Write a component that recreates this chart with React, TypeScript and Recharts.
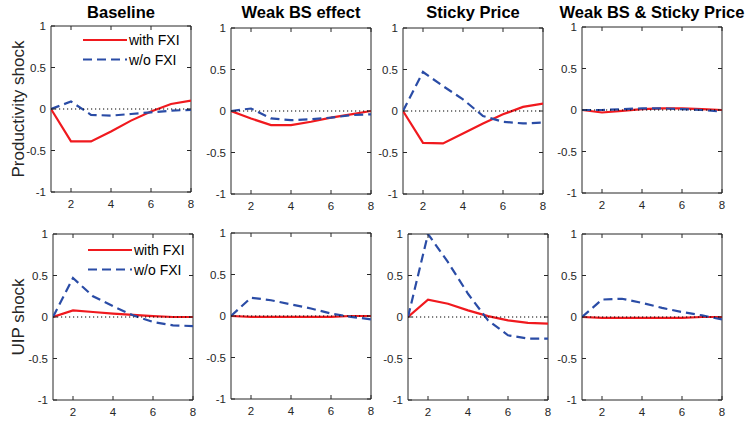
import React from 'react';
import { LineChart, Line, XAxis, YAxis, ReferenceLine, ReferenceArea, Legend } from 'recharts';

const periods = [1, 2, 3, 4, 5, 6, 7, 8];
const xTicks = [2, 4, 6, 8];
const yTicks = [-1, -0.5, 0, 0.5, 1];

const titles = ['Baseline', 'Weak BS effect', 'Sticky Price', 'Weak BS & Sticky Price'];
const rowLabels = ['Productivity shock', 'UIP shock'];

// productivity shock
const prodBaseWith = [0, -0.39, -0.39, -0.27, -0.14, -0.03, 0.06, 0.1];
const prodBaseWithout = [0, 0.09, -0.07, -0.08, -0.06, -0.04, -0.02, -0.01];
const prodWeakWith = [0, -0.09, -0.17, -0.17, -0.13, -0.08, -0.04, 0];
const prodWeakWithout = [0, 0.03, -0.09, -0.11, -0.1, -0.08, -0.05, -0.04];
const prodStickyWith = [0, -0.385, -0.39, -0.27, -0.15, -0.04, 0.05, 0.09];
const prodStickyWithout = [0, 0.47, 0.3, 0.14, -0.06, -0.13, -0.15, -0.14];
const prodBothWith = [0, -0.03, -0.01, 0.01, 0.02, 0.02, 0.01, 0];
const prodBothWithout = [0, 0, 0.01, 0.02, 0.02, 0.01, 0, -0.02];

// UIP shock
const uipBaseWith = [0, 0.08, 0.06, 0.04, 0.025, 0.01, 0, 0];
const uipBaseWithout = [0, 0.47, 0.25, 0.13, 0.02, -0.06, -0.1, -0.11];
const uipWeakWith = [0, -0.01, -0.01, -0.01, -0.01, -0.01, 0, 0];
const uipWeakWithout = [0, 0.22, 0.19, 0.14, 0.09, 0.03, -0.01, -0.04];
const uipStickyWith = [0, 0.21, 0.16, 0.08, 0.01, -0.04, -0.07, -0.08];
const uipStickyWithout = [0, 1.0, 0.66, 0.28, -0.04, -0.22, -0.26, -0.26];
const uipBothWith = [0, -0.01, -0.01, -0.01, -0.01, -0.01, 0, 0];
const uipBothWithout = [0, 0.21, 0.22, 0.17, 0.11, 0.06, 0.02, -0.03];

const rows = [
  [
    [prodBaseWith, prodBaseWithout],
    [prodWeakWith, prodWeakWithout],
    [prodStickyWith, prodStickyWithout],
    [prodBothWith, prodBothWithout],
  ],
  [
    [uipBaseWith, uipBaseWithout],
    [uipWeakWith, uipWeakWithout],
    [uipStickyWith, uipStickyWithout],
    [uipBothWith, uipBothWithout],
  ],
];

const series = [
  { key: 'with', name: 'with FXI', color: '#f0191e', dash: undefined as string | undefined },
  { key: 'without', name: 'w/o FXI', color: '#2a4ca6', dash: '9 5' },
];

// layout
const PW = 140;
const PH = 166;
const ML = 40;
const MT = 10;
const MR = 8;
const XH = 24;
const plotLefts = [
  [51, 231, 403, 582],
  [53, 231, 408, 582],
];
const plotTops = [
  [26, 28, 28, 27],
  [234, 233, 234, 234],
];
const legendPos = [
  { left: 70, top: 16 },
  { left: 73, top: 18 },
];

const axisColor = '#262626';
const font = '"Liberation Sans", Arial, Helvetica, sans-serif';

const XTick = (props: any) => {
  const { x, y, payload } = props;
  return (
    <g>
      <line x1={x} x2={x} y1={y} y2={y - 4} stroke={axisColor} />
      <line x1={x} x2={x} y1={y - PH} y2={y - PH + 4} stroke={axisColor} />
      <text x={x} y={y + 15.5} textAnchor="middle" fontSize={11.5} fill={axisColor} fontFamily={font}>
        {payload.value}
      </text>
    </g>
  );
};

const YTick = (props: any) => {
  const { x, y, payload } = props;
  return (
    <g>
      <line x1={x} x2={x + 4} y1={y} y2={y} stroke={axisColor} />
      <line x1={x + PW} x2={x + PW - 4} y1={y} y2={y} stroke={axisColor} />
      <text x={x - 5} y={y + 4} textAnchor="end" fontSize={11.5} fill={axisColor} fontFamily={font}>
        {payload.value}
      </text>
    </g>
  );
};

const renderLegend = () => (
  <svg width={120} height={40}>
    {series.map((s, i) => (
      <g key={s.key}>
        <line x1={2} x2={46} y1={8 + i * 19.5} y2={8 + i * 19.5} stroke={s.color} strokeWidth={2.2} strokeDasharray={s.dash} />
        <text x={48} y={8 + i * 19.5 + 5} fontSize={14} fill="#000" fontFamily={font}>
          {s.name}
        </text>
      </g>
    ))}
  </svg>
);

const Panel = ({ row, col }: { row: number; col: number }) => {
  const [withVals, withoutVals] = rows[row][col];
  const data = periods.map((p, i) => ({ t: p, with: withVals[i], without: withoutVals[i] }));
  return (
    <div style={{ position: 'absolute', left: plotLefts[row][col] - ML, top: plotTops[row][col] - MT }}>
      <LineChart width={ML + PW + MR} height={MT + PH + XH} data={data} margin={{ top: MT, right: MR, left: 0, bottom: 0 }}>
        <XAxis
          dataKey="t"
          type="number"
          domain={[1, 8]}
          ticks={xTicks}
          tickSize={0}
          tickMargin={0}
          height={XH}
          axisLine={false}
          tickLine={false}
          tick={<XTick />}
          allowDataOverflow
        />
        <YAxis
          type="number"
          domain={[-1, 1]}
          ticks={yTicks}
          tickSize={0}
          tickMargin={0}
          width={ML}
          axisLine={false}
          tickLine={false}
          tick={<YTick />}
          allowDataOverflow
        />
        {series.map((s) => (
          <Line
            key={s.key}
            type="linear"
            dataKey={s.key}
            name={s.name}
            stroke={s.color}
            strokeWidth={2.2}
            strokeDasharray={s.dash}
            dot={false}
            isAnimationActive={false}
          />
        ))}
        <ReferenceLine y={0} stroke="#000" strokeDasharray="1.2 2.8" strokeWidth={1.2} />
        <ReferenceArea x1={1} x2={8} y1={-1} y2={1} fill="none" fillOpacity={0} stroke={axisColor} strokeWidth={1} />
        {col === 0 && (
          <Legend
            layout="vertical"
            align="center"
            verticalAlign="middle"
            content={renderLegend}
            wrapperStyle={{ left: legendPos[row].left, top: legendPos[row].top, width: 120, height: 40 }}
          />
        )}
      </LineChart>
    </div>
  );
};

export default function App() {
  return (
    <div style={{ position: 'absolute', left: 0, top: 0, width: 748, height: 421, background: '#fff', fontFamily: font }}>
      <svg width={748} height={421} style={{ position: 'absolute', left: 0, top: 0 }}>
        {titles.map((t, i) => (
          <text
            key={t}
            x={plotLefts[0][i] + PW / 2}
            y={17.5}
            textAnchor="middle"
            fontSize={16.5}
            fontWeight="bold"
            fill="#000"
            fontFamily={font}
          >
            {t}
          </text>
        ))}
        {rowLabels.map((t, r) => (
          <text
            key={t}
            transform={`translate(24, ${plotTops[r][0] + PH / 2}) rotate(-90)`}
            textAnchor="middle"
            fontSize={17}
            fill={axisColor}
            fontFamily={font}
          >
            {t}
          </text>
        ))}
      </svg>
      {rows.map((r, ri) => r.map((_, ci) => <Panel key={`${ri}-${ci}`} row={ri} col={ci} />))}
    </div>
  );
}
